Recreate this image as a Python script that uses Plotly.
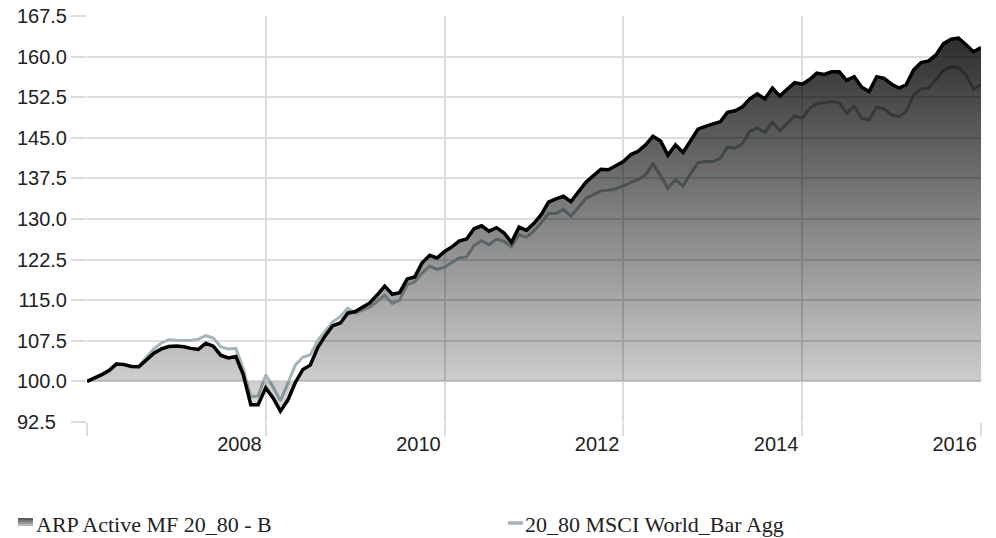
import plotly.graph_objects as go
import pandas as pd

# ---------------- data ----------------
dates = pd.date_range("2006-01-01", "2016-01-01", freq="MS")  # monthly observations

arp_name = "ARP Active MF 20_80 - B"
msci_name = "20_80 MSCI World_Bar Agg"

arp = [
    100.0, 100.6, 101.2, 102.0, 103.2, 103.1, 102.75, 102.7, 104.0, 105.2,
    106.0, 106.45, 106.55, 106.4, 106.1, 105.9, 107.05, 106.5, 104.85, 104.35,
    104.6, 101.3, 95.7, 95.7, 98.8, 96.9, 94.5, 96.6, 99.8, 102.2,
    103.0, 106.3, 108.5, 110.3, 110.8, 112.6, 112.9, 113.7, 114.5, 116.0,
    117.6, 116.1, 116.4, 118.9, 119.3, 121.9, 123.3, 122.8, 124.0, 124.9,
    125.9, 126.3, 128.2, 128.75, 127.75, 128.4, 127.4, 125.7, 128.5, 127.9,
    129.2, 130.9, 133.1, 133.7, 134.2, 133.2, 135.0, 136.8, 138.0, 139.2,
    139.1, 139.8, 140.6, 141.9, 142.5, 143.7, 145.3, 144.4, 141.8, 143.7,
    142.3, 144.4, 146.6, 147.1, 147.5, 148.0, 149.7, 150.0, 150.7, 152.2,
    153.1, 152.2, 154.2, 152.7, 154.0, 155.2, 154.9, 155.8, 156.95, 156.7,
    157.2, 157.2, 155.6, 156.3, 154.35, 153.55, 156.3, 156.0, 154.9, 154.2,
    154.8, 157.55, 158.9, 159.2, 160.3, 162.4, 163.2, 163.4, 162.2, 160.9,
    161.7,
]

msci = [
    100.0, 100.7, 101.3, 102.1, 103.3, 103.2, 102.8, 102.8, 104.5, 106.0,
    107.1, 107.7, 107.6, 107.55, 107.55, 107.8, 108.44, 108.0, 106.4, 106.0,
    106.1, 102.4, 97.2, 97.3, 101.2, 98.9, 96.4, 99.7, 103.0, 104.5,
    104.9, 107.6, 109.3, 111.0, 112.0, 113.5, 112.6, 113.2, 113.7, 114.8,
    115.9, 114.4, 115.0, 117.85, 118.4, 120.0, 121.3, 120.7, 121.1, 122.0,
    122.8, 123.0, 125.1, 126.0, 125.24, 126.3, 125.9, 124.85, 127.1, 126.66,
    127.8, 129.4, 131.0, 131.0, 131.8, 130.5, 132.2, 133.8, 134.5, 135.2,
    135.3, 135.6, 136.1, 136.8, 137.3, 138.16, 140.2, 138.0, 135.7, 137.24,
    136.1, 138.3, 140.4, 140.6, 140.6, 141.25, 143.3, 143.1, 143.9, 146.2,
    146.8, 146.0, 147.9, 146.3, 147.7, 149.06, 148.6, 150.5, 151.3, 151.5,
    151.7, 151.5, 149.56, 150.8, 148.6, 148.3, 150.67, 150.3, 149.25, 148.9,
    149.85, 152.9, 154.0, 154.17, 155.7, 157.5, 158.1, 158.0, 156.6, 154.0,
    154.78,
]

BASELINE = 100.0
y_tick_vals = [92.5, 100.0, 107.5, 115.0, 122.5, 130.0, 137.5, 145.0, 152.5, 160.0, 167.5]
x_tick_vals = ["2006-01-01", "2008-01-01", "2010-01-01", "2012-01-01", "2014-01-01", "2016-01-01"]
x_tick_text = ["", "2008", "2010", "2012", "2014", "2016"]

# ---------------- styling ----------------
W, H = 996, 538
ML, MR, MT, MB = 87, 15, 16, 116
GRID = "#dcdcdc"
MSCI_COLOR = "#a3b5bb"
SANS = "Liberation Sans, Arial, sans-serif"
SERIF = "Liberation Serif, Times New Roman, serif"
NBSP = "\u00a0"

# labels are left-aligned in the reference: pad the shorter one
y_tick_text = []
for v in y_tick_vals:
    s = f"{v:.1f}"
    y_tick_text.append(s + NBSP * 2 * (5 - len(s)))

fig = go.Figure()

# benchmark line (drawn first: the semi-transparent area covers it)
fig.add_trace(go.Scatter(
    x=dates, y=msci, mode="lines", name=msci_name,
    line=dict(color=MSCI_COLOR, width=3),
))
# invisible baseline at 100 for the area threshold
fig.add_trace(go.Scatter(
    x=dates, y=[BASELINE] * len(dates), mode="lines",
    line=dict(width=0), showlegend=False, hoverinfo="skip",
))
# fund: gradient area to the 100 baseline + black line
fig.add_trace(go.Scatter(
    x=dates, y=arp, mode="lines", name=arp_name,
    fill="tonexty",
    fillgradient=dict(
        type="vertical",
        colorscale=[[0, "rgba(0,0,0,0.12)"], [1, "rgba(0,0,0,0.86)"]],
        start=92.5, stop=167.5,
    ),
    line=dict(color="#000000", width=3.5),
))

fig.update_xaxes(
    type="date",
    range=[x_tick_vals[0], x_tick_vals[-1]],
    tickmode="array", tickvals=x_tick_vals, ticktext=x_tick_text,
    showgrid=True, gridcolor=GRID, gridwidth=2,
    ticks="outside", ticklen=13, tickwidth=2, tickcolor=GRID,
    ticklabelposition="outside left", ticklabelshift=-3, ticklabelstandoff=4,
    tickfont=dict(family=SANS, size=20, color="#222222"),
    showline=False, zeroline=False, automargin=False,
)
fig.update_yaxes(
    range=[y_tick_vals[0], y_tick_vals[-1]],
    tickmode="array", tickvals=y_tick_vals, ticktext=y_tick_text,
    showgrid=True, gridcolor=GRID, gridwidth=2,
    ticks="outside", ticklen=15, tickwidth=2, tickcolor=GRID,
    tickfont=dict(family=SANS, size=20, color="#222222"),
    showline=False, zeroline=False, automargin=False,
)

# ---------------- manual legend ----------------
pw, ph = W - ML - MR, H - MT - MB


def px(xp):
    return (xp - ML) / pw


def py(yp):
    return (H - MB - yp) / ph


legend_y = 524
shapes = []
# gradient swatch for the fund area
swatch_cols = ["#5e5e5e", "#7a7a7a", "#989898", "#b8b8b8"]
for i, c in enumerate(swatch_cols):
    shapes.append(dict(type="rect", xref="paper", yref="paper",
                       x0=px(18), x1=px(33), y0=py(518 + 2 * i), y1=py(520 + 2 * i),
                       fillcolor=c, line=dict(width=0)))
# line swatch for the benchmark
shapes.append(dict(type="line", xref="paper", yref="paper",
                   x0=px(508), x1=px(523), y0=py(legend_y - 1), y1=py(legend_y - 1),
                   line=dict(color=MSCI_COLOR, width=3.5)))

annotations = [
    dict(text=arp_name, xref="paper", yref="paper", x=px(34), y=py(legend_y),
         xanchor="left", yanchor="middle", showarrow=False,
         font=dict(family=SERIF, size=22, color="#222222")),
    dict(text=msci_name, xref="paper", yref="paper", x=px(523), y=py(legend_y),
         xanchor="left", yanchor="middle", showarrow=False,
         font=dict(family=SERIF, size=22, color="#222222")),
]

fig.update_layout(
    width=W, height=H,
    margin=dict(l=ML, r=MR, t=MT, b=MB, autoexpand=False),
    paper_bgcolor="white", plot_bgcolor="white",
    showlegend=False,
    shapes=shapes, annotations=annotations,
)

fig.write_html("out.html", config={"displayModeBar": False},
               post_script="document.body.style.margin='0px';")
